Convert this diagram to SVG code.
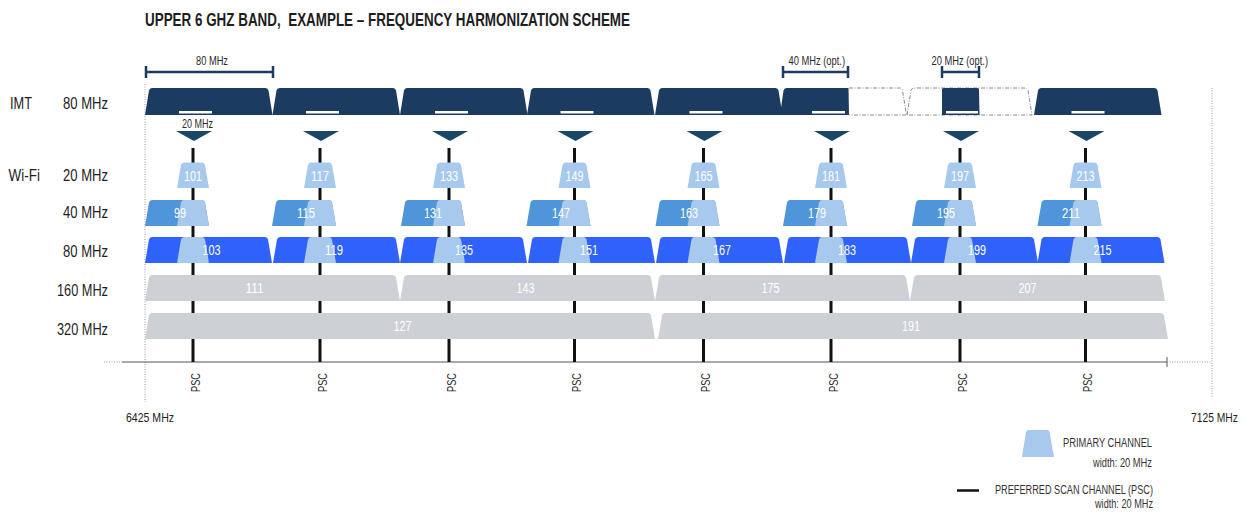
<svg xmlns="http://www.w3.org/2000/svg" width="1245" height="516" viewBox="0 0 1245 516">
<style>
text{font-family:"Liberation Sans",Arial,sans-serif;fill:#1e1e1e}
.title{font-size:17.5px;font-weight:bold}
.row{font-size:17px}
.small{font-size:12px;fill:#2a2a2a}
.num{font-size:14px;fill:#ffffff;text-anchor:middle}
.leg{font-size:12.5px;fill:#333}
.imt{fill:#1b3c60}
.tri{fill:#184865}
.c40{fill:#4f95da}
.c80{fill:#2f62fb}
.prim{fill:#a7c9ed}
.gray{fill:#cdd1d6}
.bar{fill:#ffffff}
.psc{stroke:#111;stroke-width:3}
.brk{stroke:#1b3c60;stroke-width:2.5;fill:none}
.dot{stroke:#999;stroke-width:1;stroke-dasharray:1 1.5;fill:none}
.dash{stroke:#8a8a8a;stroke-width:1;stroke-dasharray:4 1.5 1 1.5;fill:none}
</style>
<defs>
<path id="imtBlock" d="M0,115 L4,90.5 Q4.6,88 7,88 L120.5,88 Q122.9,88 123.5,90.5 L127.5,115 Z"/>
<path id="b80" d="M0,263 L4,239.5 Q4.6,237 7,237 L120,237 Q122.4,237 123,239.5 L127,263 Z"/>
<path id="b160" d="M0,301 L4,277.5 Q4.6,275 7,275 L248,275 Q250.4,275 251,277.5 L255,301 Z"/>
<path id="b320" d="M0,339 L4,315.5 Q4.6,313 7,313 L503,313 Q505.4,313 506,315.5 L510,339 Z"/>
<path id="p20" d="M-16,188 L-12,165 Q-11.5,162.5 -9,162.5 L9,162.5 Q11.5,162.5 12,165 L16,188 Z"/>
<path id="b40" d="M-48,226 L-44,202.5 Q-43.4,200 -41,200 L9,200 Q11.5,200 12,202.5 L16,226 Z"/>
<path id="o40" d="M-16,226 L-12,202.5 Q-11.5,200 -9,200 L9,200 Q11.5,200 12,202.5 L16,226 Z"/>
<path id="o80" d="M-16,263 L-12,239.5 Q-11.5,237 -9,237 L9,237 Q11.5,237 12,239.5 L16,263 Z"/>
<polygon id="tri" points="-17,131 19,131 1,141"/>
<rect id="wbar" x="-14" y="111" width="33" height="2.5"/>
</defs>

<text class="title" x="145" y="26" textLength="485" lengthAdjust="spacingAndGlyphs">UPPER 6 GHZ BAND,&#160; EXAMPLE – FREQUENCY HARMONIZATION SCHEME</text>

<g id="row-labels">
<text class="row" x="10" y="109" textLength="22" lengthAdjust="spacingAndGlyphs">IMT</text>
<text class="row" x="63" y="109" textLength="45" lengthAdjust="spacingAndGlyphs">80 MHz</text>
<text class="row" x="8.5" y="180.5" textLength="31.5" lengthAdjust="spacingAndGlyphs">Wi-Fi</text>
<text class="row" x="63" y="180.5" textLength="45" lengthAdjust="spacingAndGlyphs">20 MHz</text>
<text class="row" x="63" y="218" textLength="45" lengthAdjust="spacingAndGlyphs">40 MHz</text>
<text class="row" x="63" y="256.5" textLength="45" lengthAdjust="spacingAndGlyphs">80 MHz</text>
<text class="row" x="57" y="295.5" textLength="51" lengthAdjust="spacingAndGlyphs">160 MHz</text>
<text class="row" x="57" y="334.5" textLength="51" lengthAdjust="spacingAndGlyphs">320 MHz</text>
</g>

<g id="axis">
<line class="dot" x1="145" y1="84" x2="145" y2="402"/>
<line class="dot" x1="1212" y1="88" x2="1212" y2="398"/>
<line class="dot" x1="104" y1="362" x2="122" y2="362"/>
<line x1="122" y1="362" x2="1167" y2="362" stroke="#555" stroke-width="1"/>
<line x1="1167" y1="357" x2="1167" y2="367" stroke="#555" stroke-width="1"/>
<line class="dot" x1="1167" y1="362" x2="1212" y2="362"/>
<text x="126" y="422" style="font-size:13.5px" textLength="48" lengthAdjust="spacingAndGlyphs">6425 MHz</text>
<text transform="translate(1191,422) scale(0.764,1)" style="font-size:13.5px">7125 MHz</text>
</g>

<g id="brackets">
<path class="brk" d="M146,72 H273 M146,66 V78 M273,66 V78"/>
<text class="small" x="196" y="65" textLength="32" lengthAdjust="spacingAndGlyphs">80 MHz</text>
<path class="brk" d="M783,72 H848 M783,66 V78 M848,66 V78"/>
<text class="small" x="788.5" y="65" textLength="56.5" lengthAdjust="spacingAndGlyphs">40 MHz (opt.)</text>
<path class="brk" d="M942,72 H979 M942,66 V78 M979,66 V78"/>
<text class="small" x="931.5" y="65" textLength="56.5" lengthAdjust="spacingAndGlyphs">20 MHz (opt.)</text>
</g>

<g id="psc-lines">
<line class="psc" x1="193" y1="148" x2="193" y2="362"/>
<line class="psc" x1="320" y1="148" x2="320" y2="362"/>
<line class="psc" x1="449" y1="148" x2="449" y2="362"/>
<line class="psc" x1="574.5" y1="148" x2="574.5" y2="362"/>
<line class="psc" x1="703.5" y1="148" x2="703.5" y2="362"/>
<line class="psc" x1="831" y1="148" x2="831" y2="362"/>
<line class="psc" x1="960" y1="148" x2="960" y2="362"/>
<line class="psc" x1="1085.5" y1="148" x2="1085.5" y2="362"/>
</g>

<g id="imt-row">
<use href="#imtBlock" class="imt" x="145"/>
<use href="#imtBlock" class="imt" x="272.5"/>
<use href="#imtBlock" class="imt" x="400"/>
<use href="#imtBlock" class="imt" x="527"/>
<use href="#imtBlock" class="imt" x="655"/>
<path class="imt" d="M780,115 L783.5,90.5 Q784.1,88 786.5,88 L848.5,88 L849,115 Z"/>
<path class="dash" d="M849,88 L899.5,88 Q902,88 902.5,90.5 L906.5,115 L849,115"/>
<path class="dash" d="M907,115 L911,90.5 Q911.6,88 914,88 L1025,88 Q1027.4,88 1028,90.5 L1032,115 Z"/>
<path class="imt" d="M942,115 L942,89.5 Q942,88 943.5,88 L977.5,88 Q979,88 979,89.5 L979.5,115 Z"/>
<use href="#imtBlock" class="imt" x="1034"/>
<use href="#wbar" class="bar" x="193"/>
<use href="#wbar" class="bar" x="320"/>
<use href="#wbar" class="bar" x="449"/>
<use href="#wbar" class="bar" x="574.5"/>
<use href="#wbar" class="bar" x="703.5"/>
<rect class="bar" x="812" y="111" width="33" height="2.5"/>
<rect class="bar" x="946" y="111" width="32" height="2.5"/>
<use href="#wbar" class="bar" x="1085.5"/>
</g>

<g id="triangles">
<use href="#tri" class="tri" x="193"/>
<use href="#tri" class="tri" x="320"/>
<use href="#tri" class="tri" x="449"/>
<use href="#tri" class="tri" x="574.5"/>
<use href="#tri" class="tri" x="703.5"/>
<use href="#tri" class="tri" x="831"/>
<use href="#tri" class="tri" x="960"/>
<use href="#tri" class="tri" x="1085.5"/>
<text class="small" x="182" y="128" textLength="31" lengthAdjust="spacingAndGlyphs">20 MHz</text>
</g>

<g id="wifi-20">
<use href="#p20" class="prim" x="193"/><text class="num" x="193" y="180.5" textLength="18" lengthAdjust="spacingAndGlyphs">101</text>
<use href="#p20" class="prim" x="320"/><text class="num" x="320" y="180.5" textLength="18" lengthAdjust="spacingAndGlyphs">117</text>
<use href="#p20" class="prim" x="449"/><text class="num" x="449" y="180.5" textLength="18" lengthAdjust="spacingAndGlyphs">133</text>
<use href="#p20" class="prim" x="574.5"/><text class="num" x="574.5" y="180.5" textLength="18" lengthAdjust="spacingAndGlyphs">149</text>
<use href="#p20" class="prim" x="703.5"/><text class="num" x="703.5" y="180.5" textLength="18" lengthAdjust="spacingAndGlyphs">165</text>
<use href="#p20" class="prim" x="831"/><text class="num" x="831" y="180.5" textLength="18" lengthAdjust="spacingAndGlyphs">181</text>
<use href="#p20" class="prim" x="960"/><text class="num" x="960" y="180.5" textLength="18" lengthAdjust="spacingAndGlyphs">197</text>
<use href="#p20" class="prim" x="1085.5"/><text class="num" x="1085.5" y="180.5" textLength="18" lengthAdjust="spacingAndGlyphs">213</text>
</g>

<g id="wifi-40">
<use href="#b40" class="c40" x="193"/><use href="#o40" class="prim" x="193"/><text class="num" x="180" y="218" textLength="12" lengthAdjust="spacingAndGlyphs">99</text>
<use href="#b40" class="c40" x="320"/><use href="#o40" class="prim" x="320"/><text class="num" x="306" y="218" textLength="18" lengthAdjust="spacingAndGlyphs">115</text>
<use href="#b40" class="c40" x="449"/><use href="#o40" class="prim" x="449"/><text class="num" x="433" y="218" textLength="18" lengthAdjust="spacingAndGlyphs">131</text>
<use href="#b40" class="c40" x="574.5"/><use href="#o40" class="prim" x="574.5"/><text class="num" x="561" y="218" textLength="18" lengthAdjust="spacingAndGlyphs">147</text>
<use href="#b40" class="c40" x="703.5"/><use href="#o40" class="prim" x="703.5"/><text class="num" x="689" y="218" textLength="18" lengthAdjust="spacingAndGlyphs">163</text>
<use href="#b40" class="c40" x="831"/><use href="#o40" class="prim" x="831"/><text class="num" x="817" y="218" textLength="18" lengthAdjust="spacingAndGlyphs">179</text>
<use href="#b40" class="c40" x="960"/><use href="#o40" class="prim" x="960"/><text class="num" x="946" y="218" textLength="18" lengthAdjust="spacingAndGlyphs">195</text>
<use href="#b40" class="c40" x="1085.5"/><use href="#o40" class="prim" x="1085.5"/><text class="num" x="1071" y="218" textLength="18" lengthAdjust="spacingAndGlyphs">211</text>
</g>

<g id="wifi-80">
<use href="#b80" class="c80" x="145"/><use href="#o80" class="prim" x="193"/><text class="num" x="211.5" y="255" textLength="18" lengthAdjust="spacingAndGlyphs">103</text>
<use href="#b80" class="c80" x="273"/><use href="#o80" class="prim" x="320"/><text class="num" x="334" y="255" textLength="18" lengthAdjust="spacingAndGlyphs">119</text>
<use href="#b80" class="c80" x="400"/><use href="#o80" class="prim" x="449"/><text class="num" x="464" y="255" textLength="18" lengthAdjust="spacingAndGlyphs">135</text>
<use href="#b80" class="c80" x="528"/><use href="#o80" class="prim" x="574.5"/><text class="num" x="589" y="255" textLength="18" lengthAdjust="spacingAndGlyphs">151</text>
<use href="#b80" class="c80" x="656"/><use href="#o80" class="prim" x="703.5"/><text class="num" x="722" y="255" textLength="18" lengthAdjust="spacingAndGlyphs">167</text>
<use href="#b80" class="c80" x="784"/><use href="#o80" class="prim" x="831"/><text class="num" x="847" y="255" textLength="18" lengthAdjust="spacingAndGlyphs">183</text>
<use href="#b80" class="c80" x="911"/><use href="#o80" class="prim" x="960"/><text class="num" x="977" y="255" textLength="18" lengthAdjust="spacingAndGlyphs">199</text>
<use href="#b80" class="c80" x="1037.5"/><use href="#o80" class="prim" x="1085.5"/><text class="num" x="1102.5" y="255" textLength="18" lengthAdjust="spacingAndGlyphs">215</text>
</g>

<g id="wifi-160">
<use href="#b160" class="gray" x="145"/><text class="num" x="254.5" y="293" textLength="18" lengthAdjust="spacingAndGlyphs">111</text>
<use href="#b160" class="gray" x="400"/><text class="num" x="525.5" y="293" textLength="18" lengthAdjust="spacingAndGlyphs">143</text>
<use href="#b160" class="gray" x="655"/><text class="num" x="770.5" y="293" textLength="18" lengthAdjust="spacingAndGlyphs">175</text>
<use href="#b160" class="gray" x="910"/><text class="num" x="1027.5" y="293" textLength="18" lengthAdjust="spacingAndGlyphs">207</text>
</g>

<g id="wifi-320">
<use href="#b320" class="gray" x="145"/><text class="num" x="402.5" y="331" textLength="18" lengthAdjust="spacingAndGlyphs">127</text>
<use href="#b320" class="gray" x="658"/><text class="num" x="911" y="331" textLength="18" lengthAdjust="spacingAndGlyphs">191</text>
</g>

<g id="psc-labels">
<text class="small" transform="translate(199.5,392) rotate(-90)" textLength="19" lengthAdjust="spacingAndGlyphs">PSC</text>
<text class="small" transform="translate(326.5,392) rotate(-90)" textLength="19" lengthAdjust="spacingAndGlyphs">PSC</text>
<text class="small" transform="translate(455.5,392) rotate(-90)" textLength="19" lengthAdjust="spacingAndGlyphs">PSC</text>
<text class="small" transform="translate(581,392) rotate(-90)" textLength="19" lengthAdjust="spacingAndGlyphs">PSC</text>
<text class="small" transform="translate(710,392) rotate(-90)" textLength="19" lengthAdjust="spacingAndGlyphs">PSC</text>
<text class="small" transform="translate(837.5,392) rotate(-90)" textLength="19" lengthAdjust="spacingAndGlyphs">PSC</text>
<text class="small" transform="translate(966.5,392) rotate(-90)" textLength="19" lengthAdjust="spacingAndGlyphs">PSC</text>
<text class="small" transform="translate(1092,392) rotate(-90)" textLength="19" lengthAdjust="spacingAndGlyphs">PSC</text>
</g>

<g id="legend">
<path class="prim" d="M1022,457 L1026,432 Q1026.5,430 1028.5,430 L1047,430 Q1049,430 1049.5,432 L1054,457 Z"/>
<text class="leg" x="1063" y="447" textLength="89" lengthAdjust="spacingAndGlyphs">PRIMARY CHANNEL</text>
<text class="leg" x="1093" y="467" textLength="59" lengthAdjust="spacingAndGlyphs">width: 20 MHz</text>
<line x1="957" y1="490.5" x2="979" y2="490.5" stroke="#111" stroke-width="2.5"/>
<text class="leg" x="995" y="493.5" textLength="158" lengthAdjust="spacingAndGlyphs">PREFERRED SCAN CHANNEL (PSC)</text>
<text class="leg" x="1095" y="508" textLength="58" lengthAdjust="spacingAndGlyphs">width: 20 MHz</text>
</g>
</svg>
